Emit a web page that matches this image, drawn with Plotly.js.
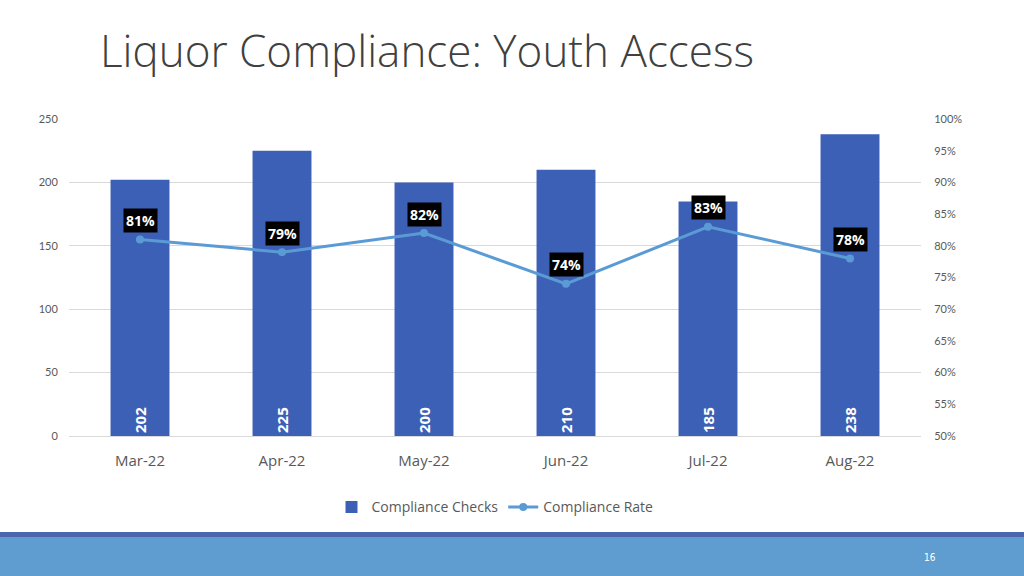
<!DOCTYPE html>
<html><head><meta charset="utf-8">
<script src="https://cdn.plot.ly/plotly-3.0.1.min.js"></script>
<style>html,body{margin:0;padding:0;background:#fff;}#c{width:1024px;height:576px;}
#bar1{position:absolute;left:0;top:532px;width:1024px;height:5px;background:#4A66AC;}
#bar2{position:absolute;left:0;top:537px;width:1024px;height:39px;background:#5F9DD0;}
#pg{position:absolute;left:924px;top:552px;color:#fff;font:10px "Liberation Sans Narrow","DejaVu Sans Condensed",sans-serif;}
</style></head>
<body><div id="c"></div><div id="bar1"></div><div id="bar2"></div><div id="pg">16</div>
<script>
var months = ["Mar-22","Apr-22","May-22","Jun-22","Jul-22","Aug-22"];
var checks = [202,225,200,210,185,238];
var rate = [0.81,0.79,0.82,0.74,0.83,0.78];
var rateLabels = ["81%","79%","82%","74%","83%","78%"];

var bars = {type:'bar', x:months, y:checks, name:'Compliance Checks',
  marker:{color:'#3D60B7'}, text:checks.map(String), textposition:'inside',
  insidetextanchor:'start', textangle:-90,
  textfont:{color:'#fff', size:15, family:'Open Sans', weight:700}, hoverinfo:'none'};
var line = {type:'scatter', mode:'lines+markers', x:months, y:rate, yaxis:'y2', name:'Compliance Rate',
  line:{color:'#5B9BD5', width:3}, marker:{color:'#5B9BD5', size:8}};

var ann = months.map(function(m,i){return {x:m, y:rate[i], xref:'x', yref:'y2', text:'<b>'+rateLabels[i]+'</b>',
  showarrow:false, yshift:19, bgcolor:'#000', font:{color:'#fff', size:14, family:'Open Sans'}, borderpad:2};});

var layout = {width:1024, height:576, margin:{l:69, r:103, t:119, b:140},
  paper_bgcolor:'#fff', plot_bgcolor:'#fff', bargap:0.585,
  title:{text:'Liquor Compliance: Youth Access', x:100/1024, xanchor:'left', y:1-52/576, yanchor:'middle',
    font:{family:'Open Sans', size:44, color:'#404040', weight:300}},
  xaxis:{showgrid:false, showline:true, linecolor:'#d9d9d9', ticks:'outside', ticklen:11, tickcolor:'rgba(0,0,0,0)',
    tickfont:{family:'Open Sans', size:15, color:'#595959'}},
  yaxis:{range:[0,250], dtick:50, showgrid:true, gridcolor:'#d9d9d9', zeroline:false, showline:false,
    tickfont:{family:'Lato', size:11, color:'#595959'}, ticklen:8, ticks:'outside', tickcolor:'rgba(0,0,0,0)'},
  yaxis2:{range:[0.5,1.0], dtick:0.05, tickformat:'.0%', overlaying:'y', side:'right', showgrid:false, zeroline:false,
    tickfont:{family:'Lato', size:11, color:'#595959'}, ticks:'outside', ticklen:10, tickcolor:'rgba(0,0,0,0)'},
  legend:{orientation:'h', x:0.5, xanchor:'center', y:-0.225, yanchor:'middle', font:{family:'Open Sans', size:14, color:'#595959'}},
  annotations:ann, showlegend:true};
Plotly.newPlot('c', [bars,line], layout, {displayModeBar:false, staticPlot:true});
</script></body></html>
